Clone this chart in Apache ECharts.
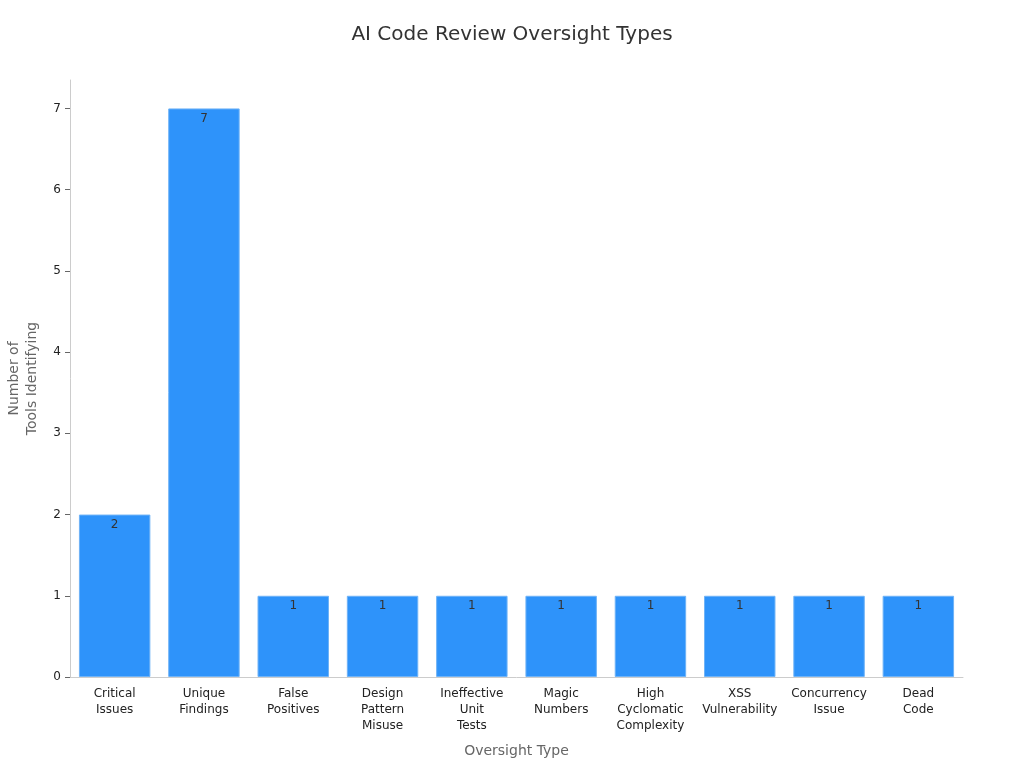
<!DOCTYPE html>
<html>
<head>
<meta charset="utf-8">
<title>AI Code Review Oversight Types</title>
<script src="https://cdn.jsdelivr.net/npm/echarts@6/dist/echarts.min.js"></script>
<style>
  html, body { margin: 0; padding: 0; background: #fff; }
  #chart { width: 1024px; height: 768px; }
</style>
</head>
<body>
<div id="chart"></div>
<script>
// categories along the x axis
const categories = [
  'Critical\nIssues',
  'Unique\nFindings',
  'False\nPositives',
  'Design\nPattern\nMisuse',
  'Ineffective\nUnit\nTests',
  'Magic\nNumbers',
  'High\nCyclomatic\nComplexity',
  'XSS\nVulnerability',
  'Concurrency\nIssue',
  'Dead\nCode'
];
// number of tools identifying each type
const toolCounts = [2, 7, 1, 1, 1, 1, 1, 1, 1, 1];
// y axis ticks
const yTicks = [0, 1, 2, 3, 4, 5, 6, 7];

const chart = echarts.init(document.getElementById('chart'));

chart.setOption({
  animation: false,
  textStyle: { fontFamily: 'DejaVu Sans' },
  title: {
    text: 'AI Code Review Oversight Types',
    left: 'center',
    top: 20,
    textStyle: { fontSize: 20, fontWeight: 'normal', color: '#333' }
  },
  grid: { left: 70, right: 61, top: 80, bottom: 91, outerBoundsMode: 'none' },
  xAxis: {
    type: 'category',
    data: categories,
    name: 'Oversight Type',
    nameLocation: 'middle',
    nameGap: 67,
    nameTextStyle: { fontSize: 14, color: '#666' },
    axisLine: { lineStyle: { color: '#ccc' } },
    axisTick: { alignWithLabel: true, length: 5, lineStyle: { color: '#666' } },
    axisLabel: { color: '#222', fontSize: 12, lineHeight: 16, margin: 9, interval: 0 }
  },
  yAxis: {
    type: 'value',
    min: 0,
    max: 7.35,
    name: 'Number of\nTools Identifying',
    nameLocation: 'middle',
    nameGap: 29,
    nameTextStyle: { fontSize: 14, color: '#666', lineHeight: 18 },
    axisLine: { show: true, lineStyle: { color: '#ccc' } },
    axisTick: { show: true, length: 5, customValues: yTicks, lineStyle: { color: '#666' } },
    axisLabel: { color: '#222', fontSize: 12, margin: 9, customValues: yTicks },
    splitLine: { show: false }
  },
  series: [{
    type: 'bar',
    data: toolCounts,
    barWidth: '80%',
    itemStyle: { color: '#2e93fa', borderColor: '#6fb3f7', borderWidth: 1 },
    label: {
      show: true,
      position: 'insideTop',
      distance: 4,
      color: '#333',
      fontSize: 12
    }
  }]
});
</script>
</body>
</html>
